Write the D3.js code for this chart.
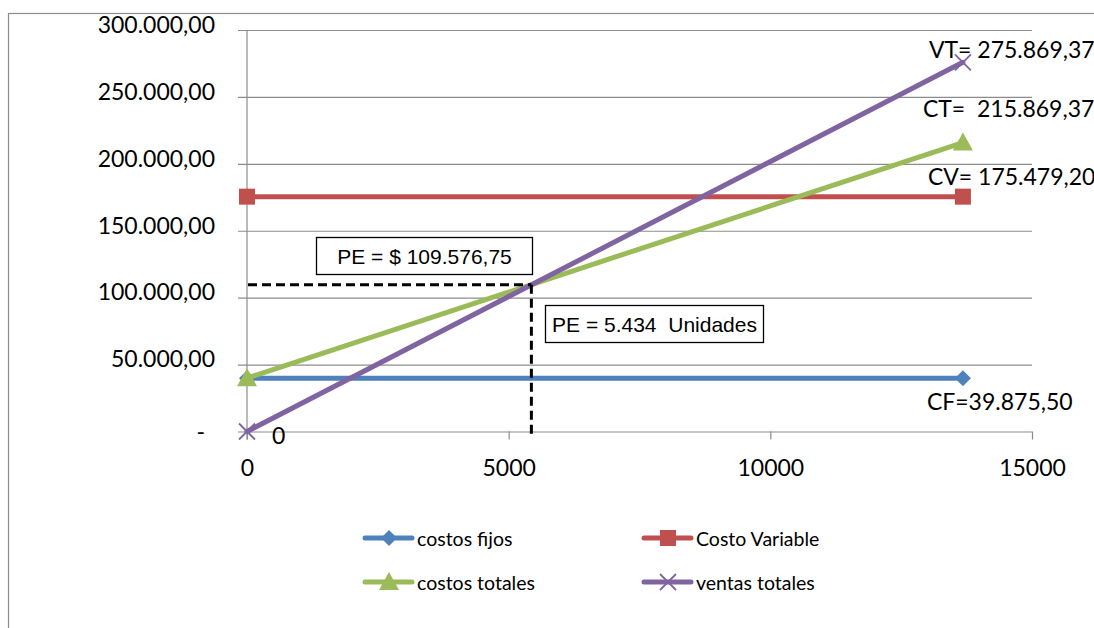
<!DOCTYPE html>
<html>
<head>
<meta charset="utf-8">
<script src="https://cdn.jsdelivr.net/npm/d3@7"></script>
<style>
  html, body { margin: 0; padding: 0; background: #fff; }
  svg { display: block; }
</style>
</head>
<body>
<svg id="chart" width="1094" height="628"></svg>
<script>
// Break-even chart data
const unidades = [0, 13680];
const costosFijos = [39875.50, 39875.50];
const costoVariable = [175479.20, 175479.20];
const costosTotales = [39875.50, 215869.37];
const ventasTotales = [0, 275869.37];

const seriesNames = ["costos fijos", "Costo Variable", "costos totales", "ventas totales"];
const seriesColors = ["#4F81BD", "#C0504D", "#9BBB59", "#8064A2"];
const seriesMarkers = ["diamond", "square", "triangle", "cross"];

const yTicks = [0, 50000, 100000, 150000, 200000, 250000, 300000];
const xTicks = [0, 5000, 10000, 15000];

const peUnidades = 5434;
const peValor = 109576.75;

const endLabels = ["CF=39.875,50", "CV= 175.479,20", "CT=  215.869,37", "VT= 275.869,37"];

const svg = d3.select("#chart");
const W = 1094, H = 628;

const x = d3.scaleLinear().domain([0, 15000]).range([247, 1032]);
const y = d3.scaleLinear().domain([0, 300000]).range([431.5, 30]);

const loc = d3.formatLocale({ decimal: ",", thousands: ".", grouping: [3], currency: ["$", ""] });
const fmtY = v => v === 0 ? "-" : loc.format(",.2f")(v);

// outer frame
svg.append("rect")
  .attr("x", 8.5).attr("y", 13.5)
  .attr("width", W).attr("height", H)
  .attr("fill", "none").attr("stroke", "#8c8c8c").attr("stroke-width", 1.2);

const labelFont = "Lato, 'Open Sans', sans-serif";
const bigSize = 23;

// y axis with gridlines
const yAxis = svg.append("g")
  .attr("transform", `translate(${x(0)},0)`)
  .call(d3.axisLeft(y).tickValues(yTicks).tickFormat(fmtY)
    .tickSize(-(x(15000) - x(0))).tickPadding(32));
yAxis.select(".domain").remove();
yAxis.selectAll(".tick line")
  .attr("x1", -9)
  .attr("stroke", "#8c8c8c").attr("stroke-width", 1.2);
yAxis.selectAll(".tick text")
  .attr("font-family", labelFont).attr("font-size", bigSize).attr("fill", "#000")
  .attr("dy", "0.1em");
yAxis.selectAll(".tick").filter(d => d === 0).select("text")
  .attr("x", -42).attr("dy", "0.35em");

// vertical axis line
svg.append("line")
  .attr("x1", x(0)).attr("x2", x(0))
  .attr("y1", y(300000)).attr("y2", y(0) + 8)
  .attr("stroke", "#8c8c8c").attr("stroke-width", 1.2);

// x axis
const xAxis = svg.append("g")
  .attr("transform", `translate(0,${y(0)})`)
  .call(d3.axisBottom(x).tickValues(xTicks).tickFormat(d3.format("d"))
    .tickSize(8).tickPadding(20));
xAxis.select(".domain").remove();
xAxis.selectAll(".tick line").attr("stroke", "#8c8c8c").attr("stroke-width", 1.2);
xAxis.selectAll(".tick text")
  .attr("font-family", labelFont).attr("font-size", bigSize).attr("fill", "#000");

// series lines
const allSeries = [costosFijos, costoVariable, costosTotales, ventasTotales];
const line = d3.line().x((d, i) => x(unidades[i])).y(d => y(d));

function drawMarker(g, type, cx, cy, color) {
  if (type === "diamond") {
    g.append("path").attr("d", `M${cx},${cy - 8}L${cx + 8},${cy}L${cx},${cy + 8}L${cx - 8},${cy}Z`).attr("fill", color);
  } else if (type === "square") {
    g.append("rect").attr("x", cx - 8).attr("y", cy - 8).attr("width", 16).attr("height", 16).attr("fill", color);
  } else if (type === "triangle") {
    g.append("path").attr("d", `M${cx},${cy - 10}L${cx + 10},${cy + 8}L${cx - 10},${cy + 8}Z`).attr("fill", color);
  } else if (type === "cross") {
    g.append("path").attr("d", `M${cx - 8},${cy - 8}L${cx + 8},${cy + 8}M${cx - 8},${cy + 8}L${cx + 8},${cy - 8}`)
      .attr("stroke", color).attr("stroke-width", 1.8).attr("fill", "none");
  }
}

allSeries.forEach((s, k) => {
  const g = svg.append("g");
  g.append("path").datum(s).attr("d", line)
    .attr("fill", "none").attr("stroke", seriesColors[k]).attr("stroke-width", 5)
    .attr("stroke-linecap", "round");
  s.forEach((v, i) => drawMarker(g, seriesMarkers[k], x(unidades[i]), y(v), seriesColors[k]));
});

// break-even dashed guides
const dashG = svg.append("g").attr("stroke", "#000").attr("stroke-width", 3)
  .attr("stroke-dasharray", "9,5").attr("fill", "none");
dashG.append("line").attr("x1", x(0) + 1).attr("x2", x(peUnidades))
  .attr("y1", y(peValor)).attr("y2", y(peValor));
dashG.append("line").attr("x1", x(peUnidades)).attr("x2", x(peUnidades))
  .attr("y1", y(peValor)).attr("y2", y(0) + 6);

// break-even boxes
const fmtMoney = loc.format(",.2f");
const fmtUnits = loc.format(",d");
function box(bx, by, bw, bh, text) {
  svg.append("rect").attr("x", bx).attr("y", by).attr("width", bw).attr("height", bh)
    .attr("fill", "#fff").attr("stroke", "#000").attr("stroke-width", 1.3);
  svg.append("text").attr("x", bx + bw / 2).attr("y", by + bh / 2)
    .attr("text-anchor", "middle").attr("dominant-baseline", "central")
    .attr("font-family", "'Liberation Sans', Arial, sans-serif").attr("font-size", 21)
    .attr("xml:space", "preserve")
    .text(text);
}
box(316.5, 237.5, 216, 37, "PE = $ " + fmtMoney(peValor));
box(545.5, 305.5, 218, 37, "PE = " + fmtUnits(peUnidades) + "  Unidades");

// end-point value labels
const labelPos = [
  { dx: -36, dy: 23 },
  { dx: -35, dy: -21 },
  { dx: -40, dy: -35 },
  { dx: -34, dy: -13 }
];
allSeries.forEach((s, k) => {
  svg.append("text")
    .attr("x", x(unidades[1]) + labelPos[k].dx)
    .attr("y", y(s[1]) + labelPos[k].dy)
    .attr("dominant-baseline", "central")
    .attr("xml:space", "preserve")
    .attr("font-family", labelFont).attr("font-size", bigSize).attr("fill", "#000")
    .text(endLabels[k]);
});
svg.append("text")
  .attr("x", x(0) + 25).attr("y", y(ventasTotales[0]) + 3)
  .attr("dominant-baseline", "central")
  .attr("font-family", labelFont).attr("font-size", bigSize).attr("fill", "#000")
  .text("0");

// legend
const legendPos = [[365, 538], [644, 538], [365, 582], [644, 582]];
seriesNames.forEach((name, k) => {
  const [lx, ly] = legendPos[k];
  const g = svg.append("g");
  g.append("line").attr("x1", lx).attr("x2", lx + 47).attr("y1", ly).attr("y2", ly)
    .attr("stroke", seriesColors[k]).attr("stroke-width", 5).attr("stroke-linecap", "round");
  drawMarker(g, seriesMarkers[k], lx + 24, ly, seriesColors[k]);
  g.append("text").attr("x", lx + 52).attr("y", ly)
    .attr("dominant-baseline", "central")
    .attr("font-family", labelFont).attr("font-size", 19.5).attr("fill", "#000")
    .text(name);
});
</script>
</body>
</html>
